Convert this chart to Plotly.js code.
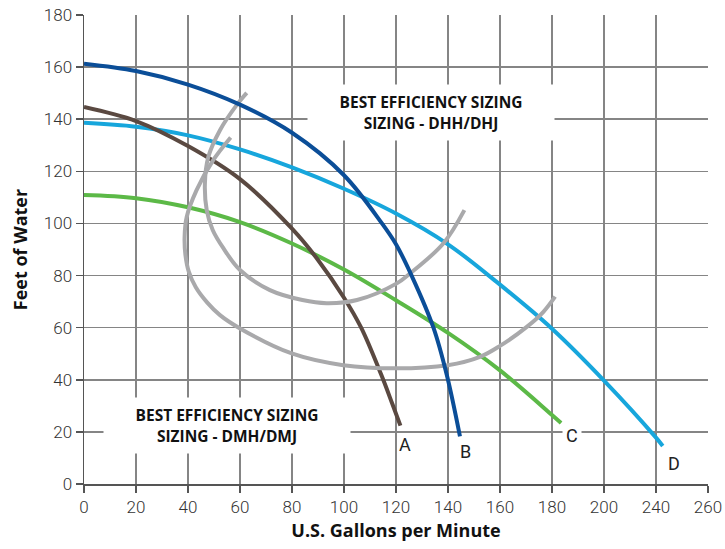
<!DOCTYPE html>
<html>
<head>
<meta charset="utf-8">
<script src="https://cdn.plot.ly/plotly-3.0.1.min.js"></script>
<style>html,body{margin:0;padding:0;background:#fff;}#chart{width:725px;height:549px;}</style>
</head>
<body>
<div id="chart"></div>
<script>
// Curve A (brown)
const aX = [0, 20, 40, 60, 80, 90, 100, 106.6, 114.3, 118.5, 121.7];
const aY = [144.7, 139.3, 129.7, 117, 98, 86, 71.5, 60, 42, 31, 22.4];
// Curve B (dark blue)
const bX = [0, 20, 40, 60, 80, 100, 114.6, 120, 126, 134.4, 139.5, 144.6];
const bY = [161.3, 158.5, 153.3, 145.6, 134.8, 118.5, 100, 92, 80, 60, 42, 18.3];
// Curve C (green)
const cX = [0, 20, 40, 60, 80, 100, 120, 140, 160, 180, 183.5];
const cY = [110.9, 109.7, 106.2, 100.5, 92.3, 82.3, 70.5, 58, 43.6, 26.5, 23.4];
// Curve D (light blue)
const dX = [0, 20, 40, 60, 80, 100, 120, 140, 160, 180, 200, 220, 222.6];
const dY = [138.6, 137.1, 133.8, 128.4, 121.5, 113.3, 103.8, 92, 76.5, 59.6, 39.7, 17.8, 14.6];
// Best efficiency region, DHH/DHJ (upper grey loop)
const g1X = [62.6, 58.7, 52.3, 47.8, 46.5, 47.2, 49.5, 53.6, 60, 71.5, 84, 93.3, 105, 120.3, 125.4, 138.2, 146.3];
const g1Y = [150.1, 145.4, 135.8, 125.5, 115.3, 105.1, 97.5, 90.5, 82.1, 74.4, 70.6, 69.4, 70.6, 77, 80.8, 92.3, 105.1];
// Best efficiency region, DMH/DMJ (lower grey loop)
const g2X = [56.4, 49.7, 43.3, 39.5, 38.7, 39, 40.3, 43, 47.5, 52.3, 60, 79.9, 99.7, 119.9, 139.9, 152.3, 160, 170.3, 176.7, 181.2];
const g2Y = [133, 124.3, 112.8, 102.5, 95, 88, 81.5, 75.5, 69.5, 64.8, 59.7, 50.1, 45.6, 44.4, 45.6, 48.8, 53, 60.3, 66.1, 71.9];
// Axis ticks (as printed on the chart)
const xTickVals = [0, 20, 40, 60, 80, 100, 120, 140, 160, 180, 200, 220, 240];
const xTickText = ["0", "20", "40", "60", "80", "100", "120", "140", "160", "180", "200", "240", "260"];
const yTickVals = [0, 20, 40, 60, 80, 100, 120, 140, 160, 180];
// Curve labels
const labelText = ["A", "B", "C", "D"];
const labelX = [123.5, 146.9, 187.8, 226.9];
const labelY = [15, 12.4, 18.8, 7.9];
const labelBg = ["rgba(0,0,0,0)", "rgba(0,0,0,0)", "#ffffff", "rgba(0,0,0,0)"];
// Region notes
const noteText = ["BEST EFFICIENCY SIZING<br>SIZING - DHH/DHJ", "BEST EFFICIENCY SIZING<br>SIZING - DMH/DMJ"];
const noteX = [133.6, 55.1];
const noteY = [142.6, 22.4];

const W = 4;
const line = (x, y, color) => ({
  x: x, y: y, type: 'scatter', mode: 'lines', hoverinfo: 'skip', showlegend: false,
  line: {color: color, width: W, shape: 'spline', smoothing: 1}
});
const traces = [
  line(dX, dY, '#17a6dc'),
  line(cX, cY, '#5cb947'),
  line(aX, aY, '#5a4941'),
  line(g1X, g1Y, '#a9a9ab'),
  line(g2X, g2Y, '#a9a9ab'),
  line(bX, bY, '#0b4e98')
];

const boldFont = 'Open Sans, Roboto, sans-serif';
const annotations = [];
for (let i = 0; i < labelText.length; i++) {
  annotations.push({
    x: labelX[i], y: labelY[i], xref: 'x', yref: 'y', text: labelText[i], showarrow: false,
    font: {family: 'Roboto, Lato, sans-serif', size: 18, color: '#222'},
    bgcolor: labelBg[i], borderpad: 3
  });
}
for (let i = 0; i < noteText.length; i++) {
  annotations.push({
    x: noteX[i], y: noteY[i], xref: 'x', yref: 'y', text: noteText[i], showarrow: false,
    font: {family: boldFont, size: 15.5, color: '#111', weight: 'bold'},
    align: 'center', bgcolor: '#ffffff', width: 246, height: 55, borderpad: 0
  });
}

const tickFont = {family: 'Roboto, Lato, sans-serif', size: 17, color: '#333', weight: 300};
const layout = {
  width: 725, height: 549,
  margin: {l: 84, r: 17, t: 15, b: 65},
  paper_bgcolor: '#fff', plot_bgcolor: '#fff',
  showlegend: false,
  xaxis: {
    range: [0, 240], tickmode: 'array', tickvals: xTickVals, ticktext: xTickText,
    showgrid: true, gridcolor: '#858585', gridwidth: 1.5,
    zeroline: false, showline: true, linecolor: '#555', linewidth: 1.5,
    ticks: 'outside', ticklen: 7, tickcolor: '#555', tickwidth: 1.5,
    tickfont: tickFont, automargin: false,
    title: {text: 'U.S. Gallons per Minute', standoff: 8,
      font: {family: boldFont, size: 18, color: '#111', weight: 'bold'}}
  },
  yaxis: {
    range: [0, 180], tickmode: 'array', tickvals: yTickVals,
    showgrid: true, gridcolor: '#858585', gridwidth: 1.5,
    zeroline: false, showline: true, linecolor: '#555', linewidth: 1.5,
    ticks: 'outside', ticklen: 7, tickcolor: '#555', tickwidth: 1.5,
    tickfont: tickFont, automargin: false,
    title: {text: 'Feet of Water', standoff: 11,
      font: {family: boldFont, size: 18, color: '#111', weight: 'bold'}}
  },
  annotations: annotations
};

Plotly.newPlot('chart', traces, layout, {displayModeBar: false, staticPlot: true});
</script>
</body>
</html>
